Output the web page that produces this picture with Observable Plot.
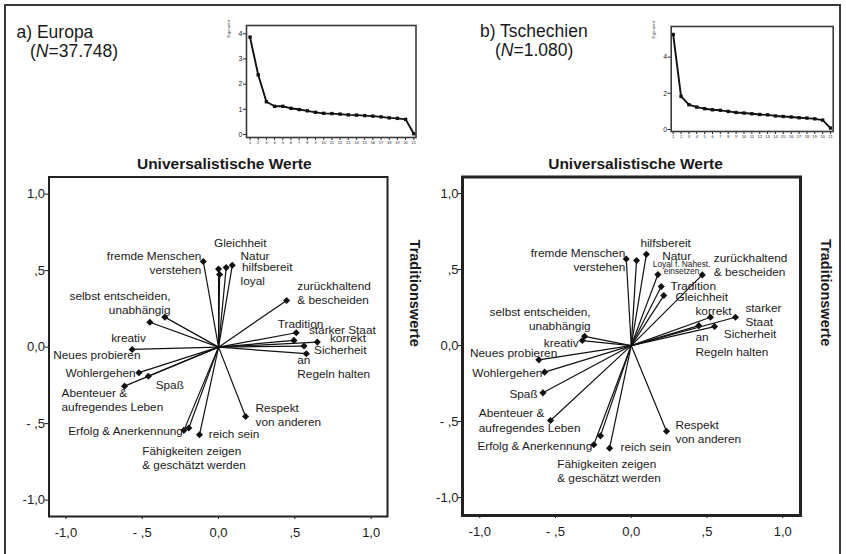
<!DOCTYPE html>
<html><head><meta charset="utf-8">
<script src="https://cdn.jsdelivr.net/npm/d3@7"></script>
<script src="https://cdn.jsdelivr.net/npm/@observablehq/plot@0.6"></script>
<style>
body{margin:0;background:#fff;}
#root{position:relative;width:846px;height:554px;overflow:hidden;font-family:"Liberation Sans",Arial,sans-serif;color:#1a1a1a;background:#fff;}
.abs{position:absolute;white-space:nowrap;}
.plab{font-size:17.5px;line-height:18.5px;}
</style></head><body><div id="root"></div>
<script>
// ---------- data ----------
const labelsEuropa = [
  "fremde Menschen\nverstehen","Gleichheit","Natur","hilfsbereit","loyal",
  "zurückhaltend\n& bescheiden","Tradition","starker Staat","korrekt","Sicherheit",
  "an\nRegeln halten","Respekt\nvon anderen","reich sein","Fähigkeiten zeigen\n& geschätzt werden",
  "Erfolg & Anerkennung","Abenteuer &\naufregendes Leben","Spaß","Wohlergehen",
  "Neues probieren","kreativ","selbst entscheiden,\nunabhängig"
];
const labelsCzech = [
  "fremde Menschen\nverstehen","Gleichheit","Natur","hilfsbereit","Loyal f. Nahest.\neinsetzen",
  "zurückhaltend\n& bescheiden","Tradition","starker\nStaat","korrekt","Sicherheit",
  "an\nRegeln halten","Respekt\nvon anderen","reich sein","Fähigkeiten zeigen\n& geschätzt werden",
  "Erfolg & Anerkennung","Abenteuer &\naufregendes Leben","Spaß","Wohlergehen",
  "Neues probieren","kreativ","selbst entscheiden,\nunabhängig"
];
const europaX = [-0.10, 0.05, 0.09, 0.00, 0.007, 0.446, 0.509, 0.647, 0.494, 0.56, 0.575, 0.177, -0.125, -0.195, -0.227, -0.616, -0.46, -0.522, -0.566, -0.45, -0.352];
const europaY = [0.56, 0.52, 0.535, 0.51, 0.475, 0.305, 0.094, 0.033, 0.044, 0.007, -0.043, -0.453, -0.573, -0.529, -0.544, -0.255, -0.19, -0.167, -0.015, 0.163, 0.196];
const czechX = [-0.033, 0.215, 0.035, 0.10, 0.176, 0.469, 0.198, 0.688, 0.523, 0.55, 0.446, 0.233, -0.143, -0.203, -0.247, -0.533, -0.583, -0.572, -0.61, -0.323, -0.308];
const czechY = [0.57, 0.329, 0.56, 0.60, 0.467, 0.465, 0.388, 0.186, 0.186, 0.125, 0.131, -0.564, -0.675, -0.594, -0.653, -0.493, -0.311, -0.175, -0.094, 0.033, 0.061];
const screeEuropa = [3.87, 2.37, 1.3, 1.12, 1.12, 1.04, 0.99, 0.94, 0.88, 0.84, 0.83, 0.81, 0.78, 0.77, 0.75, 0.73, 0.70, 0.66, 0.64, 0.60, 0.03];
const screeCzech = [5.25, 1.83, 1.37, 1.24, 1.15, 1.09, 1.06, 1.0, 0.94, 0.91, 0.87, 0.83, 0.81, 0.75, 0.72, 0.69, 0.65, 0.63, 0.59, 0.52, 0.08];
const screeComponents = d3.range(1, 22);
const axisTicks = [-1, -0.5, 0, 0.5, 1];
const axisTickLabels = ["-1,0", "- ,5", "0,0", ",5", "1,0"];
const screeTicksEuropa = [0, 1, 2, 3, 4];
const screeTicksCzech = [0, 2, 4];
const titleX = "Universalistische Werte";
const titleY = "Traditionswerte";

// ---------- label layout (pixel offsets from marker: dx, dy, anchor, fontSize) ----------
const layoutEuropa = [
  [-2,1,"end"],[14,-25,"middle"],[8.3,-9.7,"start"],[23.4,-2.6,"start"],[21,6,"start"],
  [10.7,-8,"start"],[4.3,-9,"middle"],[-8.4,-12.5,"start"],[36,-2.8,"start"],[10,3.6,"start"],
  [-9,12.7,"start"],[10,-2.3,"start"],[9.3,-1.6,"start"],[-46.6,29.3,"start"],
  [-1,0,"end"],[-63,13.3,"start"],[7.3,8.3,"start"],[-3.3,-0.6,"end"],
  [8.3,5.3,"end"],[-4,15,"end"],[5.7,-14.7,"end"]
];
const layoutCzech = [
  [-1,0.5,"end"],[11.7,1,"start"],[25.7,-5,"start"],[-6,-11.6,"start"],[23.7,-6.5,"middle",8.3],
  [11.6,-10,"start"],[9.3,-1,"start"],[10,-3,"start"],[-15,-6.7,"start"],[9.3,7.3,"start"],
  [-3.3,18.3,"start"],[9,0,"start"],[11,-1.7,"start"],[-43.3,34.4,"start"],
  [-1.6,0.7,"end"],[-71.7,-0.5,"start"],[-5.3,1,"end"],[-2.3,0.6,"end"],
  [18.4,-7.6,"end"],[-3.7,1.7,"end"],[6,-18.2,"end"]
];

const FONT = '"Liberation Sans", Arial, Helvetica, sans-serif';
const root = document.getElementById("root");

function place(el, left, top) {
  el.style.position = "absolute";
  el.style.left = left + "px";
  el.style.top = top + "px";
  root.appendChild(el);
}

function biplot(o) {
  const data = o.labels.map((label, i) => ({x: o.xs[i], y: o.ys[i], label, i}));
  const texts = data.map(d => {
    const [dx, dy, anchor, fs] = o.layout[d.i];
    return Plot.text([d], {x: "x", y: "y", text: "label", dx, dy, textAnchor: anchor,
      fontSize: fs || 11.8, lineHeight: fs ? 0.85 : 1.2, fill: "#1a1a1a"});
  });
  const fmt = d => axisTickLabels[axisTicks.indexOf(d)];
  return Plot.plot({
    width: o.width, height: o.height,
    marginLeft: o.ml, marginRight: o.mr, marginTop: o.mt, marginBottom: o.mb,
    x: {domain: o.xDomain}, y: {domain: o.yDomain},
    style: {fontFamily: FONT, color: "#1a1a1a", background: "transparent", overflow: "visible"},
    marks: [
      Plot.axisX({ticks: axisTicks, tickFormat: fmt, tickSize: 3, tickPadding: 8, fontSize: 13, label: null}),
      Plot.axisY({ticks: axisTicks, tickFormat: fmt, tickSize: 4, tickPadding: 0, fontSize: 13, label: null}),
      Plot.link(data, {x1: 0, y1: 0, x2: "x", y2: "y", stroke: "#111", strokeWidth: 1.2}),
      Plot.dot(data, {x: "x", y: "y", symbol: "diamond2", r: 3.2, fill: "#111", stroke: "none"}),
      ...texts,
      Plot.frame({stroke: "#222", strokeWidth: o.frameWidth}),
      Plot.text([titleX], {frameAnchor: "top", dx: o.titleDx, dy: -19, fontWeight: "bold", fontSize: 15.5, fill: "#1a1a1a"}),
      Plot.text([titleY], {frameAnchor: "right", dx: o.sideDx, rotate: 90, fontWeight: "bold", fontSize: 14.5, fill: "#1a1a1a"})
    ]
  });
}

function scree(o) {
  const data = o.values.map((v, i) => ({k: screeComponents[i], v}));
  return Plot.plot({
    width: o.width, height: o.height,
    marginLeft: o.ml, marginRight: o.mr, marginTop: o.mt, marginBottom: o.mb,
    x: {domain: o.xDomain}, y: {domain: o.yDomain},
    style: {fontFamily: FONT, color: "#222", background: "transparent", overflow: "visible"},
    marks: [
      Plot.axisX({ticks: screeComponents, tickFormat: d3.format("d"), tickSize: 3, tickPadding: 0.5, fontSize: 4, label: null}),
      Plot.axisY({ticks: o.yTicks, tickFormat: d3.format("d"), tickSize: 3, tickPadding: 1, fontSize: 7, label: null}),
      Plot.text(["Eigenwert"], {frameAnchor: "top-left", dx: -19, dy: 12, rotate: -90, fontSize: 4, fill: "#444"}),
      Plot.line(data, {x: "k", y: "v", stroke: "#111", strokeWidth: 1.9}),
      Plot.dot(data, {x: "k", y: "v", symbol: "square", r: 1.9, fill: "#111", stroke: "none"}),
      Plot.frame({stroke: "#3a3a3a", strokeWidth: 1.6})
    ]
  });
}

// outer border
const border = document.createElement("div");
border.style.cssText = "border:2px solid #3a3a3a;width:833px;height:600px;box-sizing:content-box;";
place(border, 4, 4);

// panel labels
function panelLabel(html, left, top) {
  const d = document.createElement("div");
  d.className = "abs plab";
  d.innerHTML = html;
  place(d, left, top);
}
panelLabel("a) Europa", 16.5, 23);
panelLabel("(<i>N</i>=37.748)", 30, 41.5);
panelLabel("b) Tschechien", 480, 22);
panelLabel("(<i>N</i>=1.080)", 495, 40.5);

// scree plots
place(scree({values: screeEuropa, yTicks: screeTicksEuropa, width: 202, height: 138,
  ml: 28, mr: 4.5, mt: 13, mb: 13, xDomain: [0.57, 21.27], yDomain: [-0.12, 4.33]}), 218, 12);
place(scree({values: screeCzech, yTicks: screeTicksCzech, width: 200, height: 134,
  ml: 27.7, mr: 10.3, mt: 14, mb: 15, xDomain: [0.75, 21.34], yDomain: [-0.11, 5.69]}), 643, 12);

// biplots
place(biplot({labels: labelsEuropa, xs: europaX, ys: europaY, layout: layoutEuropa,
  width: 432, height: 424, ml: 48.5, mr: 45, mt: 46.5, mb: 38,
  xDomain: [-1.111, 1.107], yDomain: [-1.107, 1.112], frameWidth: 2, titleDx: 6, sideDx: 27}), 0, 130);
place(biplot({labels: labelsCzech, xs: czechX, ys: czechY, layout: layoutCzech,
  width: 426, height: 424, ml: 42, mr: 46, mt: 46.5, mb: 39,
  xDomain: [-1.114, 1.1175], yDomain: [-1.118, 1.109], frameWidth: 3, titleDx: 4, sideDx: 25}), 420, 130);
</script></body></html>
